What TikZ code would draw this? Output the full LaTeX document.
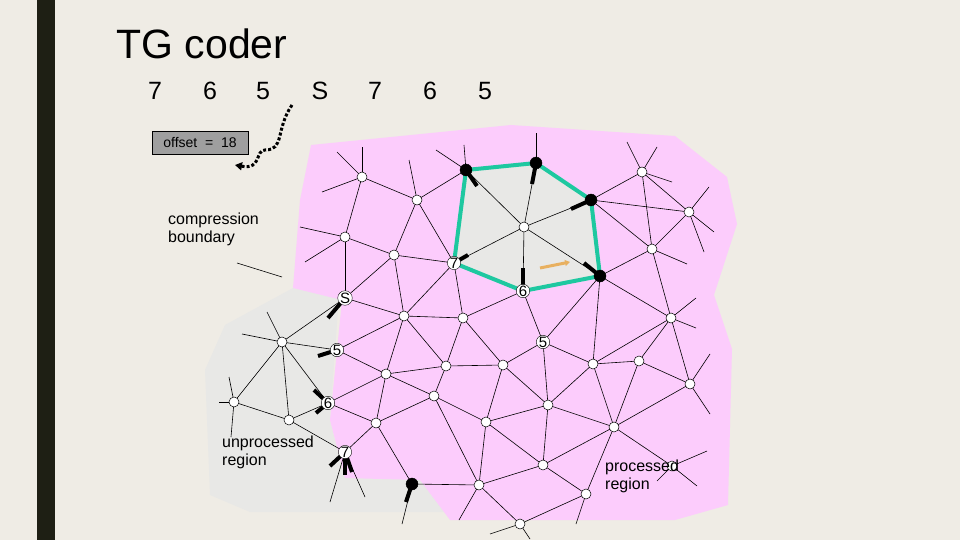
\documentclass[tikz,border=0pt]{standalone}
\usepackage{fontspec}
\setmainfont{Liberation Sans}
\usetikzlibrary{arrows.meta,decorations.pathmorphing}
\definecolor{bg}{HTML}{EFECE5}
\definecolor{bar}{HTML}{1E1F14}
\definecolor{pinkr}{HTML}{FCCCFC}
\definecolor{grayr}{HTML}{E8E8E6}
\definecolor{teal}{HTML}{1EC8A0}
\definecolor{orng}{HTML}{E8B060}
\tikzset{
 v/.style={circle,draw=black,fill=white,inner sep=0pt,minimum size=10pt,line width=0.5pt},
 bv/.style={circle,draw=black,fill=black,inner sep=0pt,minimum size=12pt},
 lv/.style={circle,draw=black,fill=white,inner sep=0pt,minimum size=12pt,font=\fontsize{15}{15}\selectfont},
 e/.style={line width=0.6pt},
 stub/.style={line width=4pt,line cap=butt},
 lbl/.style={font=\fontsize{16}{18}\selectfont,align=left,anchor=north west,inner sep=0pt},
 dig/.style={font=\fontsize{25}{25}\selectfont}
}
\begin{document}
\begin{tikzpicture}[x=1pt,y=-1pt]
\fill[bg] (0,0) rectangle (960,540);
\useasboundingbox (0,0) rectangle (960,540);
\fill[bar] (37,0) rectangle (55,540);
\node[anchor=west,font=\fontsize{41}{41}\selectfont] (title) at (113,44) {TG coder};
\foreach \t/\x [count=\i] in {7/155,6/210,5/263,S/320,7/375,6/430,5/485}
  \node[dig] (n\i) at (\x,91) {\t};
% regions
\fill[grayr] (293,288) -- (340,282) -- (330,420) -- (342,470) -- (420,470) -- (450,512) -- (250,512) -- (210,495) -- (205,370) -- (225,325) -- cycle;
\fill[pinkr] (311,145) -- (511,125) -- (675,136) -- (727,177) -- (737,224) -- (714,295) -- (732,349) -- (728,505) -- (675,520) -- (450,520) -- (420,480) -- (345,478) -- (330,420) -- (342,300) -- (293,288) -- (300,200) -- cycle;
\foreach \n/\x/\y in {A/362/177,B/417/200,C/345/237,D/394/255,E/466/170,F/536/163,G/591/200,H/524/227,I/454/263,J/523/291,K/600/276,L/642/172,M/689/212,N/652/249,O/345/298,P/404/316,Q/463/318,R/543/342,S/671/318,T/337/350,U/282/342,V/386/374,W/446/366,X/503/365,Y/593/364,Z/639/361,AA/690/384,BB/328/403,CC/234/402,DD/289/420,EE/376/423,FF/434/396,GG/486/422,HH/548/405,II/614/427,JJ/345/452,KK/412/484,LL/543/465,MM/479/485,NN/586/494,OO/672/466,PP/520/524}
  \coordinate (\n) at (\x,\y);
\fill[grayr] (E)--(F)--(G)--(K)--(J)--(I)--cycle;
\foreach \a/\b in {A/B,A/C,C/D,D/B,B/E,B/I,E/H,F/H,G/H,H/I,H/J,H/K,D/I,D/O,C/O,O/P,D/P,I/P,I/Q,P/Q,J/Q,J/R,K/R,K/N,K/Y,G/N,G/M,L/M,L/N,N/M,N/S,S/Y,S/Z,S/AA,Y/Z,Z/AA,R/Y,R/X,R/HH,Q/X,X/W,W/Q,W/P,P/V,V/W,O/U,U/T,T/P,T/V,U/BB,U/CC,U/DD,CC/DD,DD/BB,BB/V,BB/EE,V/EE,EE/FF,V/FF,FF/W,FF/GG,X/GG,X/HH,GG/HH,HH/Y,HH/II,Y/II,Z/II,AA/II,II/OO,HH/LL,LL/II,GG/LL,GG/MM,MM/LL,MM/KK,FF/MM,EE/KK,EE/JJ,DD/JJ,LL/NN,NN/PP,MM/PP,II/NN,K/S,L/G}
  \draw[e] (\a)--(\b);
\foreach \p/\dx/\dy in {A/-25/-25,A/-40/15,A/0/-30,C/-45/-10,C/-40/25,B/-8/-40,E/-30/-20,E/-2/-25,F/0/-30,L/-15/-30,L/15/-25,L/30/10,M/20/-25,M/25/20,M/15/40,N/35/15,S/25/-20,S/25/10,AA/20/-30,AA/20/30,OO/35/-15,OO/25/20,OO/-15/15,NN/-10/30,PP/-30/10,PP/10/15,U/-40/-8,U/-15/-30,CC/-15/0,CC/-5/-25,CC/-3/35,KK/-10/40,JJ/-15/50,JJ/20/45,MM/-20/35}
  \draw[e] (\p) -- ++(\dx,\dy);
\coordinate (cbl1) at (237,263);
\coordinate (cbl2) at (282,277);
\draw[e] (cbl1) -- (cbl2);
\draw[teal,line width=4pt,line join=round] (E)--(F)--(G)--(K)--(J)--(I)--cycle;
\foreach \p/\x/\y in {E/477/186,F/532/184,G/571/209,I/468/255,J/523/268,K/584/263,O/328/318,T/318/356,BB/314/390,BB/316/413,JJ/330/466,JJ/345/475,JJ/352/472,KK/406/502}
  \draw[stub] (\p) -- (\x,\y);
\draw[orng,line width=3pt,-{Triangle[length=5pt,width=6pt]}] (540,268) -- (570,262);
\foreach \n in {A,B,C,D,H,L,M,N,P,Q,S,U,V,W,X,Y,Z,AA,CC,DD,EE,FF,GG,HH,II,LL,MM,NN,OO,PP}
  \node[v] (v\n) at (\n) {};
\foreach \n in {E,F,G,K,KK}
  \node[bv] (v\n) at (\n) {};
\node[lv] (vO) at (O) {S};
\node[lv] (vT) at (T) {5};
\node[lv] (vBB) at (BB) {6};
\node[lv] (vI) at (I) {7};
\node[lv] (vJ) at (J) {6};
\node[lv] (vR) at (R) {5};
\node[lv] (vJJ) at (JJ) {7};
\node[draw=black,fill=gray!75,font=\fontsize{14}{14}\selectfont,minimum width=96pt,minimum height=23pt,inner sep=1pt] (off) at (200,143) {offset\ \ =\ \ 18};
\node[lbl] (cb) at (168,213) {compression\\boundary};
\node[lbl] (ur) at (222,436) {unprocessed\\region};
\node[lbl] (pr) at (605,460) {processed\\region};
\coordinate (dstart) at (292,105);
\draw[line width=3pt,dotted,-{Triangle[length=7pt,width=8pt]}] (dstart) .. controls (275,130) and (285,150) .. (265,150) .. controls (255,150) and (262,170) .. (235,165);
\end{tikzpicture}
\end{document}
